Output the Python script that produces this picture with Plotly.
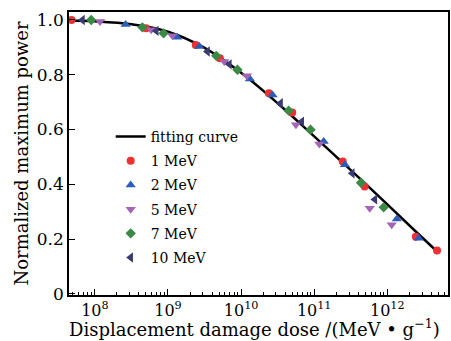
import plotly.graph_objects as go

# ---- data (log10 of dose in MeV/g, normalized Pmax) ----
fit_logx = [7.646, 8.0, 8.5, 9.0, 9.5, 10.0, 10.5, 11.0, 11.5, 12.0, 12.4, 12.68]
fit_y    = [0.998, 0.995, 0.984, 0.957, 0.898, 0.807, 0.696, 0.575, 0.452, 0.327, 0.225, 0.155]

mev1_logx = [7.68, 8.70, 9.38, 9.71, 10.38, 10.70, 11.39, 11.69, 12.39, 12.68]
mev1_y    = [1.000, 0.970, 0.909, 0.860, 0.732, 0.662, 0.483, 0.392, 0.209, 0.158]

mev2_logx = [8.42, 9.125, 9.43, 10.12, 10.43, 11.13, 11.42, 12.13, 12.43]
mev2_y    = [0.983, 0.937, 0.903, 0.784, 0.726, 0.556, 0.471, 0.273, 0.203]

mev5_logx = [8.07, 8.77, 9.06, 9.77, 10.08, 10.75, 11.07, 11.76, 12.06]
mev5_y    = [0.994, 0.964, 0.942, 0.848, 0.796, 0.617, 0.547, 0.313, 0.252]

mev7_logx = [7.95, 8.65, 8.94, 9.66, 9.95, 10.65, 10.95, 11.64, 11.95]
mev7_y    = [1.000, 0.973, 0.951, 0.869, 0.818, 0.669, 0.599, 0.406, 0.316]

mev10_logx = [7.83, 8.84, 9.54, 9.84, 10.54, 10.83, 11.52, 11.83]
mev10_y    = [1.000, 0.960, 0.885, 0.838, 0.696, 0.629, 0.440, 0.345]

x_tick_exps = [8, 9, 10, 11, 12]
y_tick_vals = [0, 0.2, 0.4, 0.6, 0.8, 1.0]
y_tick_text = ["0", "0.2", "0.4", "0.6", "0.8", "1.0"]

x_title = "Displacement damage dose /(MeV • g<sup>−1</sup>)"
y_title = "Normalized maximum power"

FONT = "DejaVu Serif"

def pw(lst):
    return [10 ** v for v in lst]

fig = go.Figure()
fig.add_trace(go.Scatter(x=pw(fit_logx), y=fit_y, mode="lines", name="fitting curve",
                         line=dict(color="black", width=2.5, shape="spline"),
                         legendgroup="a"))

series = [
    ("1 MeV", mev1_logx, mev1_y, "circle", "#EE3030", 8),
    ("2 MeV", mev2_logx, mev2_y, "triangle-up", "#2A5CB8", 9),
    ("5 MeV", mev5_logx, mev5_y, "triangle-down", "#A565B5", 9),
    ("7 MeV", mev7_logx, mev7_y, "diamond", "#3A8A45", 8),
    ("10 MeV", mev10_logx, mev10_y, "triangle-left", "#3B3B73", 9),
]
for i, (name, lx, ly, sym, col, sz) in enumerate(series):
    fig.add_trace(go.Scatter(x=pw(lx), y=ly, mode="markers", name=name,
                             marker=dict(symbol=sym, color=col, size=sz, line=dict(width=0)),
                             legendgroup="g%d" % i))

fig.update_layout(
    width=451, height=341,
    margin=dict(l=69, r=1, t=12, b=46),
    paper_bgcolor="white", plot_bgcolor="white",
    font=dict(family=FONT, color="black", size=17),
    showlegend=True,
    legend=dict(x=0.11, y=0.615, xanchor="left", yanchor="top",
                bgcolor="rgba(0,0,0,0)", font=dict(family=FONT, size=14),
                tracegroupgap=3),
    xaxis=dict(type="log", range=[7.646, 12.83],
               tickvals=[10 ** e for e in x_tick_exps],
               ticktext=["10<sup>%d</sup>" % e for e in x_tick_exps],
               tickfont=dict(size=16),
               ticks="inside", ticklen=6, tickwidth=1.2, tickcolor="black",
               minor=dict(ticks="inside", ticklen=3, tickwidth=1, tickcolor="black", dtick="D1", showgrid=False),
               showline=True, linecolor="black", linewidth=1.5, mirror=True,
               showgrid=False, zeroline=False),
    yaxis=dict(range=[-0.004, 1.029],
               tickvals=y_tick_vals, ticktext=y_tick_text,
               tickfont=dict(size=17),
               ticks="inside", ticklen=6, tickwidth=1.2, tickcolor="black",
               showline=True, linecolor="black", linewidth=1.5, mirror=True,
               showgrid=False, zeroline=False,
               title=dict(text=y_title, font=dict(size=18), standoff=4)),
    annotations=[dict(text=x_title, xref="paper", yref="paper",
                      x=0.49, y=-0.165, xanchor="center", yanchor="bottom",
                      showarrow=False, font=dict(family=FONT, size=18))],
)

fig.write_html("out.html")
